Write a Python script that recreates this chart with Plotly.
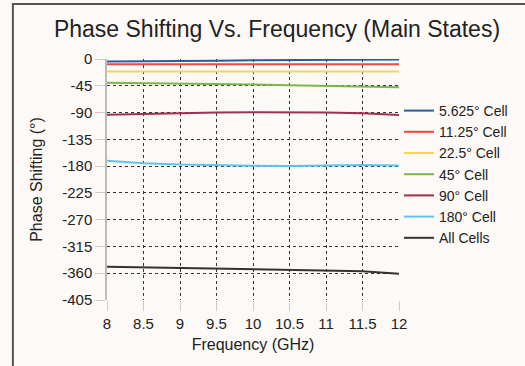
import plotly.graph_objects as go

freq = [8, 8.5, 9, 9.5, 10, 10.5, 11, 11.5, 12]
cell_5625 = [-4, -4, -3, -3, -2, -2, -2, -1, -1]
cell_1125 = [-9, -9, -9, -9, -9, -9, -9, -9, -9]
cell_225 = [-21, -21, -21, -21, -21, -21, -21, -21, -21]
cell_45 = [-40, -40.5, -41, -42, -43, -44, -45, -46, -47.5]
cell_90 = [-93.5, -92, -91, -90, -89.5, -89.5, -90, -91, -94]
cell_180 = [-171, -175, -177.5, -179, -179.5, -180, -179, -178, -179]
all_cells = [-349, -350, -352, -353, -354, -355, -355, -356.5, -361]

names = ["5.625° Cell", "11.25° Cell", "22.5° Cell", "45° Cell", "90° Cell", "180° Cell", "All Cells"]
series = [cell_5625, cell_1125, cell_225, cell_45, cell_90, cell_180, all_cells]
colors = ["#2a5d9f", "#f2473f", "#fbd44a", "#7ab648", "#a03050", "#5ec3ef", "#333333"]

y_ticks = [0, -45, -90, -135, -180, -225, -270, -315, -360, -405]
y_labels = ["0", "-45", "-90", "-135", "-180", "-225", "-270", "-315", "-360", "-405"]
x_ticks = [8, 8.5, 9, 9.5, 10, 10.5, 11, 11.5, 12]
x_labels = ["8", "8.5", "9", "9.5", "10", "10.5", "11", "11.5", "12"]

fig = go.Figure()
for n, s, c in zip(names, series, colors):
    fig.add_trace(go.Scatter(x=freq, y=s, name=n, mode="lines",
                             line=dict(color=c, width=2)))

W, H = 525, 366
ml, mr, mt, mb = 107, 117, 59, 66
pw, ph = W - ml - mr, H - mt - mb

bg = "#fdf9f6"
fig.update_layout(
    width=W, height=H,
    margin=dict(l=ml, r=mr, t=mt, b=mb),
    paper_bgcolor=bg, plot_bgcolor=bg,
    font=dict(family="Liberation Sans, Arial, sans-serif", color="#222222", size=14),
    title=dict(text="Phase Shifting Vs. Frequency (Main States)",
               x=277 / W, xanchor="center", y=1 - 29 / H, yanchor="middle",
               font=dict(size=23, color="#222222")),
    showlegend=True,
    legend=dict(x=(408 - ml) / pw, xanchor="left", y=1 - (95 - mt) / ph, yanchor="top",
                bgcolor="rgba(0,0,0,0)", font=dict(size=14, color="#222222"),
                tracegroupgap=0, itemwidth=30),
    xaxis=dict(range=[8, 12], tickvals=x_ticks, ticktext=x_labels,
               showgrid=True, gridcolor="#333333", griddash="dot", gridwidth=1,
               ticks="outside", ticklen=10, tickcolor="#cccccc",
               showline=False, zeroline=False,
               tickfont=dict(size=15),
               title=dict(text="Frequency (GHz)", font=dict(size=16), standoff=7)),
    yaxis=dict(range=[-405, 0], tickvals=y_ticks, ticktext=y_labels,
               showgrid=True, gridcolor="#333333", griddash="dot", gridwidth=1,
               ticks="outside", ticklen=10, tickcolor="#cccccc",
               showline=True, linecolor="#bbbbbb", linewidth=1.5,
               zeroline=False, tickfont=dict(size=15),
               title=dict(text="Phase Shifting (°)", font=dict(size=16), standoff=16)),
)

# outer frame
fig.add_shape(type="rect", xref="paper", yref="paper",
              x0=(10 - ml) / pw, x1=(W + 20 - ml) / pw,
              y0=1 - (H + 20 - mt) / ph, y1=1 - (4 - mt) / ph,
              line=dict(color="#555555", width=2), fillcolor="rgba(0,0,0,0)", layer="below")

fig.write_html("out.html")
